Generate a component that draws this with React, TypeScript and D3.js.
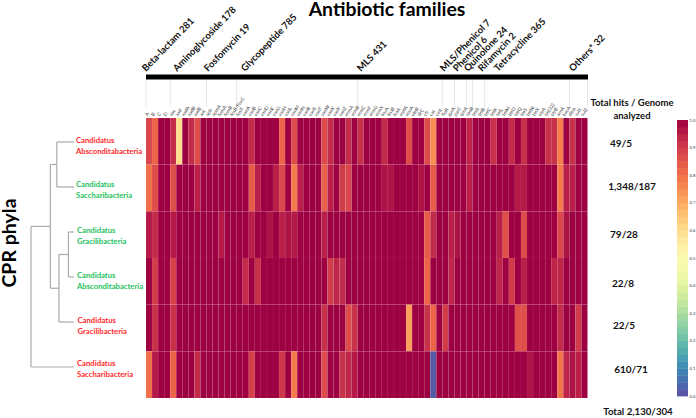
import React from "react";
import * as d3 from "d3";

const W = 696, H = 418;
const FONT = "Lato, 'Open Sans', sans-serif";

const genes = ["A","B","C","D","aac","aad","aadA","aadB","aadE","ant","aph","apmA","fomA","fomB","fosB/FosC","fosX","vanA","vanB","vanC","vanD","vanE","vanG","vanH","vanL","vanM","vanN","vanR","vanS","vanT","vanW","vanX","vanY","vanZ","ermA","ermB","ermC","ermF","ermG","ermX","lnuA","lnuB","lsaA","mefA","msrA","oleB","tlrC","cfr","cat","cml","floR","gyrA","parC","qnrA","rpoB","tetA","tetB","tetC","tetK","tetL","tetM","tetO","tetQ","tetS","tetW","tetX","otrA","tet(32)","otrB","arnA","bacA","dfrA","sul1","sul2"];

const familyNames = ["Beta-lactam 281","Aminoglycoside 178","Fosfomycin 19","Glycopeptide 785","MLS 431","MLS/Phenicol 7","Phenicol 6","Quinolone 24","Rifamycin 2","Tetracycline 365","Others* 32"];
const familyStartCols = [0,4,10,15,35,49,51,53,54,56,70];
const familyLabelX = [146,177,208,245,361,444,457,468,482,498,573];

const row0 = [.88,.82,1,1,.93,.6,1,.93,.87,1, 1,1,1,1,1,1,1,.93,1,1, 1,1,.82,1,.87,1,1,1,1,.87, .93,1,1,.93,1,.92,1,1,1,.93, 1,1,1,.87,1,1,.87,.75,1,1, 1,1,1,.94,1,1,1,.92,1,1, .93,1,.92,1,1,1,.92,.92,.78,1, .92,1,1];
const row1 = [.8,.87,1,1,.86,1,1,1,.95,1, 1,1,1,1,1,1,1,.84,.95,1, 1,.95,.88,1,.78,.95,1,1,1,.83, .95,1,.9,.88,1,1,1,1,1,.97, .97,1,1,1,1,.97,1,.84,1,1, 1,1,1,.95,1,1,1,1,1,1, 1,.96,.96,1,1,1,1,1,.78,.95, .95,1,1];
const row2 = [.96,.93,1,1,.96,1,1,1,1,1, 1,1,.96,1,1,1,1,.95,1,1, .97,1,.95,.97,.96,1,1,1,1,.95, 1,1,1,1,1,1,1,1,1,1, 1,1,1,1,1,1,.84,.93,1,1, .95,.97,1,1,1,1,1,1,.95,.86, 1,1,.87,1,1,1,1,1,.88,.97, 1,1,1];
const row3 = [1,.9,1,1,.89,1,1,1,1,1, 1,1,1,1,1,1,.93,1,.92,1, 1,1,1,1,1,1,1,1,1,1, .9,.94,.93,1,1,1,1,1,1,1, 1,1,1,1,1,1,.82,1,1,1, .94,1,1,1,1,1,1,1,.94,1, .9,1,.95,1,1,1,1,.94,.94,1, 1,1,1];
const row4 = [1,.92,1,1,.92,1,1,1,1,1, 1,1,1,1,1,1,1,1,1,1, 1,1,1,1,1,1,1,1,1,.92, 1,1,1,.87,.92,1,1,1,1,1, 1,1,1,.72,1,1,.92,.82,1,.9, 1,1,1,1,1,1,1,1,1,1, 1,.86,.86,1,1,1,1,1,.93,1, 1,.9,1];
const row5 = [.8,.96,1,1,.82,1,1,1,.93,1, 1,1,1,1,1,1,1,.89,1,1, 1,1,.91,1,.78,1,1,1,1,.87, 1,1,.92,.94,.96,1,1,1,1,1, 1,1,1,1,1,1,1,.02,1,1, 1,1,1,1,1,1,1,1,1,1, 1,1,1,.97,1,1,1,1,.79,.94, .97,.95,1];
const rows = [row0,row1,row2,row3,row4,row5];

const phylaLines = [["Candidatus","Absconditabacteria"],["Candidatus","Saccharibacteria"],["Candidatus","Gracilibacteria"],["Candidatus","Absconditabacteria"],["Candidatus","Gracilibacteria"],["Candidatus","Saccharibacteria"]];
const phylaColors = ["#ff2a2a","#1fc25e","#1fc25e","#1fc25e","#ff2a2a","#ff2a2a"];
const phylaDx = [0,0,1,1,1.5,1];
const hits = ["49/5","1,348/187","79/28","22/8","22/5","610/71"];
const hitsCx = [621,632,624,623,624,631];
const hitsCy = [143,186,234,283,325,369];
const legendTicks = [0,.1,.2,.3,.4,.5,.6,.7,.8,.9,1];

type T = { d: number; leaf?: number; children?: T[] };
const tree: T = { d: 0, children: [
  { d: 0.45, children: [
    { d: 0.6, children: [{ d: 1, leaf: 0 }, { d: 1, leaf: 1 }] },
    { d: 0.65, children: [
      { d: 0.87, children: [{ d: 1, leaf: 2 }, { d: 1, leaf: 3 }] },
      { d: 1, leaf: 4 },
    ]},
  ]},
  { d: 1, leaf: 5 },
]};

const color = (v: number) => d3.interpolateSpectral(1 - v);

export default function App() {
  const x = d3.scaleBand<number>().domain(d3.range(73)).range([146, 587.5]);
  const y = d3.scaleBand<number>().domain(d3.range(6)).range([118, 398]);
  const treeX = d3.scaleLinear().domain([0, 1]).range([31, 74]);
  const leafY = d3.scaleLinear().domain([0, 5]).range([142, 367]);
  const legendY = d3.scaleLinear().domain([0, 1]).range([396, 120]);

  const root = d3.hierarchy<T>(tree);
  root.eachAfter((n: any) => {
    n.py = n.children ? (n.children[0].py + n.children[n.children.length - 1].py) / 2 : leafY(n.data.leaf);
  });
  const branchPaths: string[] = [];
  root.each((n: any) => {
    if (!n.children) return;
    const px = treeX(n.data.d);
    const c0 = n.children[0], c1 = n.children[n.children.length - 1];
    branchPaths.push(`M${px},${c0.py}V${c1.py}`);
    n.children.forEach((c: any) => branchPaths.push(`M${px},${c.py}H${treeX(c.data.d)}`));
  });

  const bands = d3.range(0, 1, 1 / 40);

  return (
    <svg width={W} height={H} style={{ position: "absolute", left: 0, top: 0, background: "#fff" }} fontFamily={FONT}>
      <text x={387} y={16} textAnchor="middle" fontSize={19.4} fontWeight={700} fill="#000">Antibiotic families</text>

      {familyNames.map((n, i) => (
        <text key={n + i} transform={`translate(${familyLabelX[i]},72) rotate(-46)`} fontSize={9.5} fontWeight={700} fill="#111">{n}</text>
      ))}
      <rect x={146} y={74.5} width={442} height={5} fill="#000" />
      {familyStartCols.map((c, i) => (
        <line key={i} x1={x(c)!} x2={x(c)!} y1={80} y2={107} stroke="#dcdcdc" strokeWidth={0.7} />
      ))}
      <line x1={587.5} x2={587.5} y1={80} y2={107} stroke="#dcdcdc" strokeWidth={0.7} />

      {genes.map((g, i) => (
        <text key={i} transform={`translate(${x(i)! + 1.5},116.5) rotate(-55)`} fontSize={4.8} fill="#444">{g}</text>
      ))}

      {rows.map((r, ri) => r.map((v, ci) => (
        <rect key={`${ri}-${ci}`} x={x(ci)!} y={y(ri)!} width={x.bandwidth()} height={y.bandwidth()} fill={color(v)} stroke="#fff" strokeOpacity={0.06} strokeWidth={0.6} />
      )))}

      <g fill="none" stroke="#aaaaaa" strokeWidth={1.2}>
        {branchPaths.map((d, i) => <path key={i} d={d} />)}
      </g>

      {phylaLines.map((lines, i) => (
        <text key={i} fontSize={7.7} fontWeight={700} fill={phylaColors[i]}>
          <tspan x={76 + phylaDx[i]} y={leafY(i) + [1,0,1,1,1,-1][i]}>{lines[0]}</tspan>
          <tspan x={76 + phylaDx[i]} dy={10.5}>{lines[1]}</tspan>
        </text>
      ))}

      <text transform="translate(16,243) rotate(-90)" textAnchor="middle" fontSize={19.5} fontWeight={700} fill="#000">CPR phyla</text>

      <text x={632} y={106} textAnchor="middle" fontSize={9.5} fontWeight={700} fill="#111">Total hits / Genome</text>
      <text x={632} y={119} textAnchor="middle" fontSize={9.5} fontWeight={700} fill="#111">analyzed</text>
      {hits.map((h, i) => (
        <text key={h} x={hitsCx[i]} y={hitsCy[i] + 3.5} textAnchor="middle" fontSize={10} fontWeight={700} fill="#111">{h}</text>
      ))}
      <text x={638} y={414.5} textAnchor="middle" fontSize={9.7} fontWeight={700} fill="#111">Total 2,130/304</text>

      {bands.map((b, i) => (
        <rect key={i} x={677} y={legendY(b + 1 / 40)} width={11} height={legendY(b) - legendY(b + 1 / 40) + 0.4} fill={color(b + 1 / 80)} />
      ))}
      {legendTicks.map((t) => (
        <text key={t} x={689.5} y={legendY(t) + 1.5} fontSize={4.2} fill="#333">{t.toFixed(1)}</text>
      ))}
    </svg>
  );
}
